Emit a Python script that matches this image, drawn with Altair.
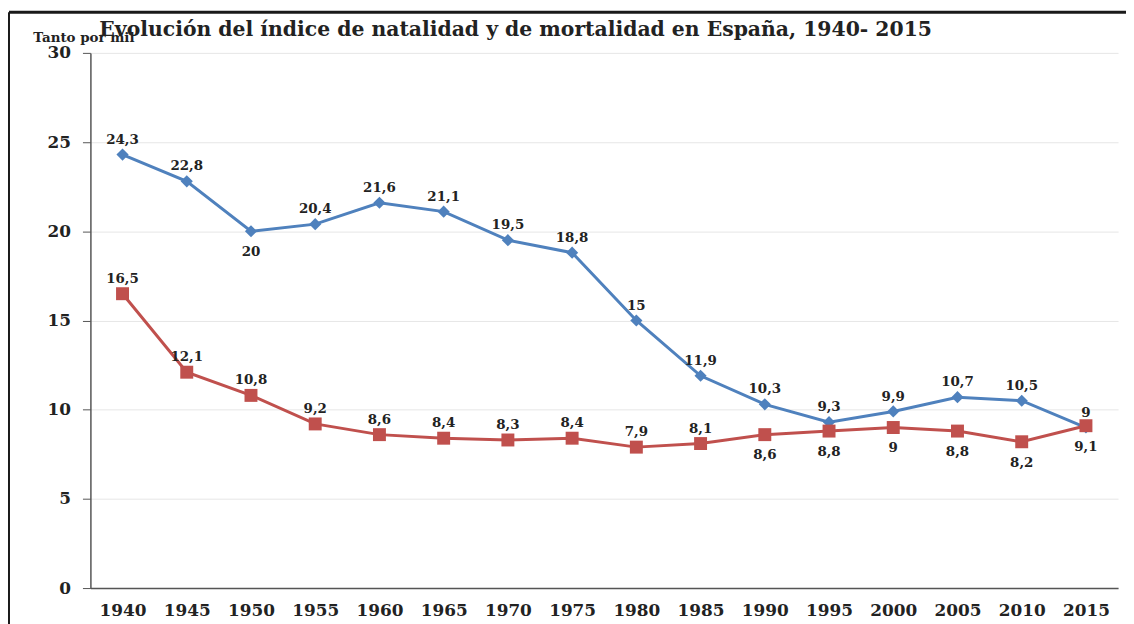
import altair as alt
import pandas as pd

years = ["1940", "1945", "1950", "1955", "1960", "1965", "1970", "1975",
         "1980", "1985", "1990", "1995", "2000", "2005", "2010", "2015"]
natalidad = [24.3, 22.8, 20, 20.4, 21.6, 21.1, 19.5, 18.8, 15, 11.9, 10.3, 9.3, 9.9, 10.7, 10.5, 9]
mortalidad = [16.5, 12.1, 10.8, 9.2, 8.6, 8.4, 8.3, 8.4, 7.9, 8.1, 8.6, 8.8, 9, 8.8, 8.2, 9.1]
title_text = "Evolución del índice de natalidad y de mortalidad en España, 1940- 2015"

BLUE = "#4F81BD"
RED = "#C0504D"
SERIF = "DejaVu Serif"

rows = []
for i, y in enumerate(years):
    yr = int(y)
    rows.append({"year": y, "serie": "Natalidad", "value": natalidad[i],
                 "label": f"{natalidad[i]:g}".replace(".", ","),
                 "pos": "below" if yr == 1950 else "above"})
    rows.append({"year": y, "serie": "Mortalidad", "value": mortalidad[i],
                 "label": f"{mortalidad[i]:g}".replace(".", ","),
                 "pos": "below" if yr >= 1990 else "above"})
df = pd.DataFrame(rows)

x_enc = alt.X("year:O", sort=years,
              scale=alt.Scale(type="point", padding=0.5),
              axis=alt.Axis(labelAngle=0, ticks=False, grid=False, title=None,
                            domainColor="#555555", domainWidth=1.5,
                            labelFont=SERIF, labelFontWeight="bold", labelFontSize=17,
                            labelColor="#222222", labelPadding=15))
y_enc = alt.Y("value:Q", scale=alt.Scale(domain=[0, 30], nice=False),
              axis=alt.Axis(values=[0, 5, 10, 15, 20, 25, 30], grid=True,
                            gridColor="#e6e6e6", domainColor="#555555", domainWidth=1.5,
                            tickColor="#555555", tickSize=8, labelFont=SERIF,
                            labelFontWeight="bold", labelFontSize=17, labelColor="#222222",
                            labelPadding=12, title="Tanto por mil", titleAngle=0,
                            titleX=-58, titleY=-8, titleAlign="left", titleBaseline="bottom",
                            titleFont=SERIF, titleFontSize=13.5, titleFontWeight="bold",
                            titleColor="#222222"))

base = alt.Chart(df).encode(x=x_enc, y=y_enc)

lines = base.mark_line(strokeWidth=3).encode(
    color=alt.Color("serie:N", scale=alt.Scale(domain=["Natalidad", "Mortalidad"],
                                                range=[BLUE, RED]), legend=None))
pts_blue = base.transform_filter(alt.datum.serie == "Natalidad").mark_point(
    shape="diamond", filled=True, size=150, opacity=1, color=BLUE)
pts_red = base.transform_filter(alt.datum.serie == "Mortalidad").mark_point(
    shape="square", filled=True, size=170, opacity=1, color=RED)

txt_above = base.transform_filter(alt.datum.pos == "above").mark_text(
    dy=-15, font=SERIF, fontSize=13.5, fontWeight="bold", color="#222222").encode(text="label:N")
txt_below = base.transform_filter(alt.datum.pos == "below").mark_text(
    dy=21, font=SERIF, fontSize=13.5, fontWeight="bold", color="#222222").encode(text="label:N")

deco = alt.Chart(alt.Data(values=[{}]))
frame_top = deco.mark_rule(color="#1a1a1a", strokeWidth=3).encode(
    x=alt.value(-82), x2=alt.value(1050), y=alt.value(-41))
frame_left = deco.mark_rule(color="#1a1a1a", strokeWidth=2).encode(
    x=alt.value(-82), y=alt.value(-41), y2=alt.value(600))
title = deco.mark_text(align="left", baseline="alphabetic", font=SERIF, fontSize=20.5,
                       fontWeight="bold", color="#222222").encode(
    x=alt.value(9), y=alt.value(-17), text=alt.value(title_text))

chart = alt.layer(lines, pts_blue, pts_red, txt_above, txt_below,
                  frame_top, frame_left, title).properties(
    width=1035, height=539,
    padding={"left": 83, "top": 43, "right": 8, "bottom": 34},
    autosize=alt.AutoSizeParams(type="none"),
).configure_view(stroke=None)

chart.save("out.html", embed_options={"renderer": "svg", "actions": False})
